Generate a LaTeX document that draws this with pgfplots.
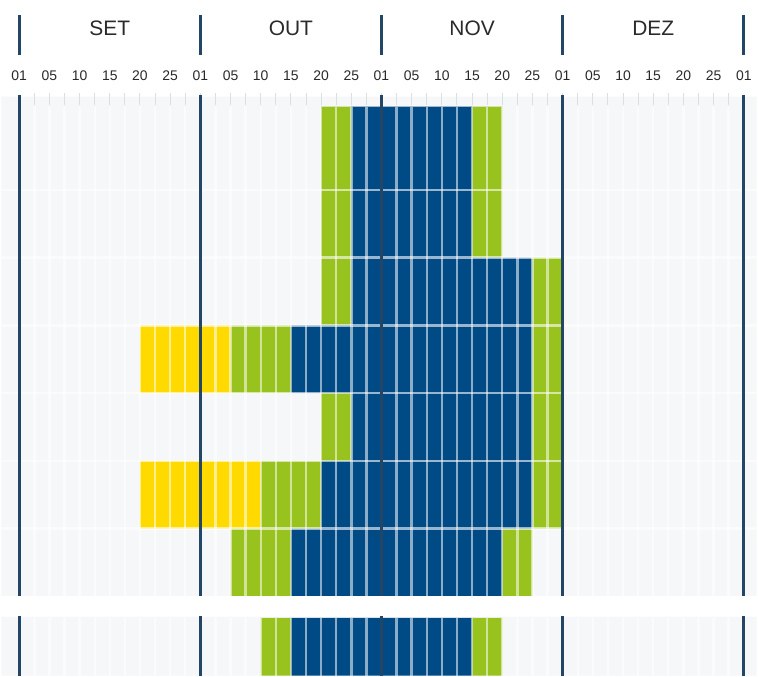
\documentclass[border=0pt]{standalone}
\usepackage{fontspec}
\setmainfont{Liberation Sans}
\usepackage{pgfplots}
\pgfplotsset{compat=1.18}
\definecolor{cBlue}{HTML}{004A86}
\definecolor{cGreen}{HTML}{98C21E}
\definecolor{cYellow}{HTML}{FFDA00}
\definecolor{cLine}{HTML}{234667}
\definecolor{cBg}{HTML}{F5F7F9}
\definecolor{cTick}{HTML}{DADFE4}
\definecolor{cTxt}{HTML}{2A2A2A}
\newcommand{\tl}[2]{\node[text=cTxt,font=\fontsize{14bp}{16bp}\selectfont] at (axis cs:#1,76) {#2};}
\begin{document}
\begin{tikzpicture}
\begin{axis}[
  scale only axis, width=758bp, height=678bp,
  xmin=-1.1884, xmax=48.858, ymin=0, ymax=678, y dir=reverse,
  axis lines=none, xtick=\empty, ytick=\empty, clip=false,
  unbounded coords=jump,
]
% page background
\addplot[fill=white, draw=none] coordinates {(-1.1884,0) (48.858,0) (48.858,678) (-1.1884,678)};
% body background
\addplot[fill=cBg, draw=none] table[row sep=\\] {
x y\\
-1.1884 97\\ 48.858 97\\ 48.858 598\\ -1.1884 598\\
nan nan\\
-1.1884 619\\ 48.858 619\\ 48.858 678\\ -1.1884 678\\
};
% small ticks
\pgfplotsinvokeforeach{1,...,47}{
  \addplot[cTick, line width=1bp] coordinates {(#1,93) (#1,105)};
}
% yellow stripes
\addplot[fill=cYellow, draw=none] table[row sep=\\] {
x y\\
8 326.5\\ 14 326.5\\ 14 394.5\\ 8 394.5\\ nan nan\\
8 462.5\\ 16 462.5\\ 16 530.5\\ 8 530.5\\
};
% green stripes
\addplot[fill=cGreen, draw=none] table[row sep=\\] {
x y\\
20 107\\ 22 107\\ 22 190.5\\ 20 190.5\\ nan nan\\
30 107\\ 32 107\\ 32 190.5\\ 30 190.5\\ nan nan\\
20 190.5\\ 22 190.5\\ 22 258.5\\ 20 258.5\\ nan nan\\
30 190.5\\ 32 190.5\\ 32 258.5\\ 30 258.5\\ nan nan\\
20 258.5\\ 22 258.5\\ 22 326.5\\ 20 326.5\\ nan nan\\
34 258.5\\ 36 258.5\\ 36 326.5\\ 34 326.5\\ nan nan\\
14 326.5\\ 18 326.5\\ 18 394.5\\ 14 394.5\\ nan nan\\
34 326.5\\ 36 326.5\\ 36 394.5\\ 34 394.5\\ nan nan\\
20 394.5\\ 22 394.5\\ 22 462.5\\ 20 462.5\\ nan nan\\
34 394.5\\ 36 394.5\\ 36 462.5\\ 34 462.5\\ nan nan\\
16 462.5\\ 20 462.5\\ 20 530.5\\ 16 530.5\\ nan nan\\
34 462.5\\ 36 462.5\\ 36 530.5\\ 34 530.5\\ nan nan\\
14 530.5\\ 18 530.5\\ 18 598\\ 14 598\\ nan nan\\
32 530.5\\ 34 530.5\\ 34 598\\ 32 598\\ nan nan\\
16 620\\ 18 620\\ 18 678\\ 16 678\\ nan nan\\
30 620\\ 32 620\\ 32 678\\ 30 678\\
};
% blue stripes
\addplot[fill=cBlue, draw=none] table[row sep=\\] {
x y\\
22 107\\ 30 107\\ 30 190.5\\ 22 190.5\\ nan nan\\
22 190.5\\ 30 190.5\\ 30 258.5\\ 22 258.5\\ nan nan\\
22 258.5\\ 34 258.5\\ 34 326.5\\ 22 326.5\\ nan nan\\
18 326.5\\ 34 326.5\\ 34 394.5\\ 18 394.5\\ nan nan\\
22 394.5\\ 34 394.5\\ 34 462.5\\ 22 462.5\\ nan nan\\
20 462.5\\ 34 462.5\\ 34 530.5\\ 20 530.5\\ nan nan\\
18 530.5\\ 32 530.5\\ 32 598\\ 18 598\\ nan nan\\
18 620\\ 30 620\\ 30 678\\ 18 678\\
};
% stripe separators
\pgfplotsinvokeforeach{1,...,11,13,14,...,23,25,26,...,35,37,38,...,47}{
  \addplot[white, opacity=0.55, line width=2.4bp] coordinates {(#1,107) (#1,598)};
  \addplot[white, opacity=0.55, line width=2.4bp] coordinates {(#1,620) (#1,678)};
}
\pgfplotsinvokeforeach{190.5,258.5,326.5,394.5,462.5,530.5}{
  \addplot[white, opacity=0.6, line width=2.6bp] coordinates {(-1.1884,#1) (48.858,#1)};
}
% month lines
\pgfplotsinvokeforeach{0,12,24,36,48}{
  \addplot[cLine, line width=2.6bp] coordinates {(#1,15) (#1,55)};
  \addplot[cLine, line width=2.6bp] coordinates {(#1,95) (#1,598)};
  \addplot[cLine, line width=2.6bp] coordinates {(#1,618) (#1,678)};
}
% month names
\node[text=cTxt,font=\fontsize{21bp}{24bp}\selectfont] at (axis cs:6,28) {SET};
\node[text=cTxt,font=\fontsize{21bp}{24bp}\selectfont] at (axis cs:18,28) {OUT};
\node[text=cTxt,font=\fontsize{21bp}{24bp}\selectfont] at (axis cs:30,28) {NOV};
\node[text=cTxt,font=\fontsize{21bp}{24bp}\selectfont] at (axis cs:42,28) {DEZ};
% day labels
\tl{0}{01}\tl{2}{05}\tl{4}{10}\tl{6}{15}\tl{8}{20}\tl{10}{25}
\tl{12}{01}\tl{14}{05}\tl{16}{10}\tl{18}{15}\tl{20}{20}\tl{22}{25}
\tl{24}{01}\tl{26}{05}\tl{28}{10}\tl{30}{15}\tl{32}{20}\tl{34}{25}
\tl{36}{01}\tl{38}{05}\tl{40}{10}\tl{42}{15}\tl{44}{20}\tl{46}{25}
\tl{48}{01}
\end{axis}
\end{tikzpicture}
\end{document}
